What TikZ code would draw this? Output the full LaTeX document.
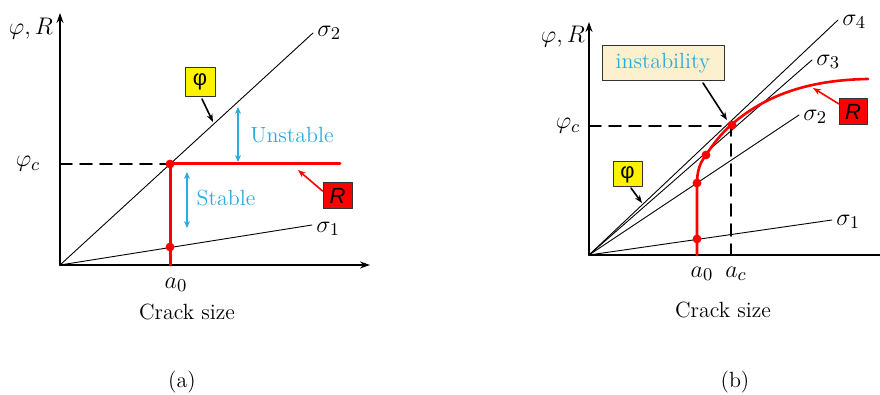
\documentclass[tikz,border=0pt]{standalone}
\usepackage{fontspec}
\usepackage{amsmath}
\usepackage{xcolor}
\usetikzlibrary{arrows.meta}
\newfontfamily\boxfont{Liberation Sans}
\definecolor{skyblue}{HTML}{29ABE2}
\definecolor{paleyellow}{HTML}{FCF0CF}

\begin{document}
\begin{tikzpicture}[
    x=0.5pt, y=-0.5pt,
    line cap=round,
    line join=round,
    every node/.style={font=\fontsize{11}{13}\selectfont, inner sep=1pt},
    sym/.style={font=\fontsize{12.5}{14}\selectfont},
    axis/.style={line width=1pt, -{Stealth[length=5pt, width=3.5pt]}},
    load/.style={line width=0.45pt},
    critical/.style={line width=0.9pt, dash pattern=on 6pt off 4pt},
    rcurve/.style={line width=1.5pt, red},
    pin/.style={line width=0.8pt, -{Stealth[length=4pt, width=3pt]}},
    span/.style={line width=0.8pt, skyblue, {Stealth[length=3.5pt, width=3pt]}-{Stealth[length=3.5pt, width=3pt]}},
    tag/.style={draw=black!80, line width=0.5pt, font=\boxfont\fontsize{11}{13}\selectfont},
    dot/.style={red}
]
\useasboundingbox (0,0) rectangle (880,395);

% ---------- (a) ----------
\coordinate (Oa) at (60,265);
\coordinate (ya) at (60,13);
\coordinate (xa) at (370,265);
\draw[axis] (Oa) -- (ya);
\draw[axis] (Oa) -- (xa);
\node[sym] at (31,29) {$\varphi, R$};
\node[sym] at (28,164) {$\varphi_c$};

% Load lines
\coordinate (s2a) at (313,33);
\coordinate (s1a) at (312,225);
\draw[load] (Oa) -- (s2a);
\draw[load] (Oa) -- (s1a);
\node[sym, anchor=west] at (s2a) [xshift=1pt] {$\sigma_2$};
\node[sym, anchor=west] at (s1a) [xshift=1pt, yshift=-2pt] {$\sigma_1$};

% Resistance
\coordinate (pca) at (60,164);
\coordinate (ca) at (170,164);
\coordinate (a0a) at (170,265);
\coordinate (ea) at (340,164);
\coordinate (la) at (170,247);
\draw[critical] (pca) -- (ca);
\draw[rcurve] (a0a) -- (ca) -- (ea);
\fill[dot] (ca) circle (2.2pt);
\fill[dot] (la) circle (2.2pt);

\node[sym] at (176,285) {$a_0$};
\node at (187,312) {Crack size};

% Regions
\draw[span] (238,107) coordinate (ut) -- (238,162) coordinate (ub);
\node[skyblue] (unst) at (292,135) {Unstable};
\draw[span] (187,172) coordinate (st) -- (187,228) coordinate (sb);
\node[skyblue] (stab) at (226,198) {Stable};

% Tags
\node[tag, fill=yellow, minimum width=15pt, minimum height=14.5pt] (phia) at (200,82) {φ};
\draw[pin] (phia.south) ++(1pt,-1pt) coordinate (pa) -- (213,122);
\node[tag, fill=red, minimum width=14.5pt, minimum height=13pt] (Ra) at (337.5,196) {\itshape R};
\draw[pin, red] (Ra.west) ++(0,2.5pt) coordinate (qa) -- (298,170);

\node at (182,382) {(a)};

% ---------- (b) ----------
\coordinate (Ob) at (589,255);
\coordinate (yb) at (589,22);
\coordinate (xb) at (882,255);
\draw[axis] (Ob) -- (yb);
\draw[line width=1pt] (Ob) -- (xb);
\node[sym] at (563,37) {$\varphi, R$};
\node[sym] at (568,126) {$\varphi_c$};

% Load lines
\coordinate (s4b) at (838,20);
\coordinate (s3b) at (812,60);
\coordinate (s2b) at (799,115);
\coordinate (s1b) at (832,220);
\foreach \s/\n in {s4b/4, s3b/3, s2b/2, s1b/1}{
  \draw[load] (Ob) -- (\s);
  \node[sym, anchor=west] at (\s) [xshift=1pt, yshift=-1pt] {$\sigma_{\n}$};
}

% Resistance curve
\coordinate (cb) at (731,126);
\coordinate (pcb) at (589,126);
\coordinate (acb) at (731,255);
\draw[critical] (pcb) -- (cb) -- (acb);
\draw[rcurve, line width=1.3pt] (697,255) -- (697,185)
  .. controls (697,170) and (700,163) .. (706,155)
  .. controls (714,143) and (721,134) .. (731,125)
  .. controls (760,100) and (800,80) .. (868,79);
\foreach \p in {(697,239), (697,183), (706,155), (732,125)}
  \fill[dot] \p circle (2.2pt);

\node[sym] at (702,274) {$a_0$};
\node[sym] at (736,274) {$a_c$};
\node at (723,310) {Crack size};

% Tags
\node[draw=black!80, line width=0.5pt, fill=paleyellow, text=skyblue,
      minimum width=61pt, minimum height=17.5pt] (inst) at (663,63.5) {instability};
\draw[pin] (703,83) coordinate (ib) -- (727,120);
\node[tag, fill=yellow, minimum width=14.5pt, minimum height=12.5pt] (phib) at (627.5,174.5) {φ};
\draw[pin] (631,188) coordinate (pb) -- (642,203);
\node[tag, fill=red, minimum width=14pt, minimum height=13pt] (Rb) at (853,112) {\itshape R};
\draw[pin, red] (839,104) coordinate (qb) -- (813,88);

\node at (735,382) {(b)};
\end{tikzpicture}
\end{document}
